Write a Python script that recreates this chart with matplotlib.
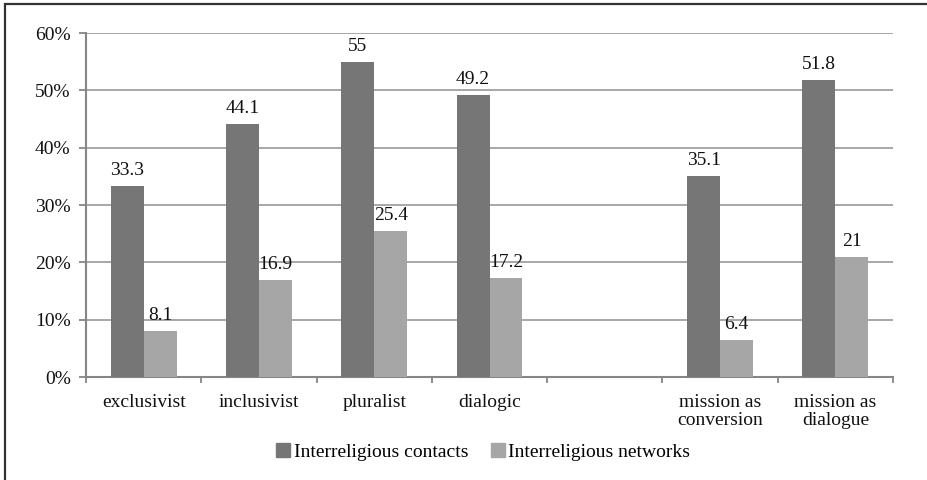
import matplotlib
matplotlib.use("Agg")
import matplotlib.pyplot as plt
from matplotlib.lines import Line2D
import numpy as np

categories = ["exclusivist", "inclusivist", "pluralist", "dialogic", "",
              "mission as\nconversion", "mission as\ndialogue"]
contacts = [33.3, 44.1, 55, 49.2, None, 35.1, 51.8]
networks = [8.1, 16.9, 25.4, 17.2, None, 6.4, 21]
series_names = ["Interreligious contacts", "Interreligious networks"]
y_ticks = [0, 10, 20, 30, 40, 50, 60]
y_tick_labels = ["0%", "10%", "20%", "30%", "40%", "50%", "60%"]

plt.rcParams["font.family"] = ["Liberation Serif", "DejaVu Serif"]
FS = 14
DARK = "#767676"
LIGHT = "#a6a6a6"
GRID = "#a0a0a0"
AXIS = "#868686"

fig = plt.figure(figsize=(9.27, 4.80), dpi=100)
ax = fig.add_axes([86 / 927, 1 - 377 / 480, (893 - 86) / 927, (377 - 33) / 480])

# outer frame (left and top edges visible)
fig.patches.append(plt.Rectangle((5 / 927, -0.1), 1.2, (476 - 0) / 480 + 0.1 - 0.0,
                                 transform=fig.transFigure, fill=False,
                                 edgecolor="#333333", linewidth=1.6))

w = 1 / 3.5
x = np.arange(len(categories))
for vals, color, offset in [(contacts, DARK, -w / 2), (networks, LIGHT, w / 2)]:
    for xi, v in zip(x, vals):
        if v is None:
            continue
        ax.bar(xi + offset, v, width=w, color=color, zorder=3)
        ax.annotate(f"{v:g}", (xi + offset, v), xytext=(0, 5),
                    textcoords="offset points", ha="center", va="bottom",
                    fontsize=FS, color="#111111")

ax.set_xlim(-0.5, len(categories) - 0.5)
ax.set_ylim(0, 60)
ax.set_yticks(y_ticks)
ax.set_yticklabels(y_tick_labels)
ax.yaxis.grid(True, color=GRID, linewidth=1.3, zorder=0)
ax.set_axisbelow(True)

ax.set_xticks(x)
ax.set_xticklabels(categories, fontsize=FS, linespacing=1.1)
ax.set_xticks(np.arange(-0.5, len(categories)), minor=True)
ax.tick_params(axis="x", which="major", length=0, pad=12, colors="#111111")
ax.tick_params(axis="x", which="minor", length=4, width=1.3, color=AXIS)
ax.tick_params(axis="y", length=5, width=1.3, color=AXIS, pad=6,
               labelsize=FS, labelcolor="#111111")

for side in ["top", "right"]:
    ax.spines[side].set_visible(False)
for side in ["left", "bottom"]:
    ax.spines[side].set_color(AXIS)
    ax.spines[side].set_linewidth(1.5)

handles = [Line2D([], [], marker="s", linestyle="none", markersize=10,
                  markerfacecolor=c, markeredgecolor=c) for c in (DARK, LIGHT)]
fig.legend(handles, series_names, loc="center", bbox_to_anchor=(482 / 927, 1 - 452 / 480),
           ncol=2, frameon=False, fontsize=FS, handletextpad=0.05,
           columnspacing=1.0, handlelength=1.0)

fig.savefig("out.png", dpi=100)
